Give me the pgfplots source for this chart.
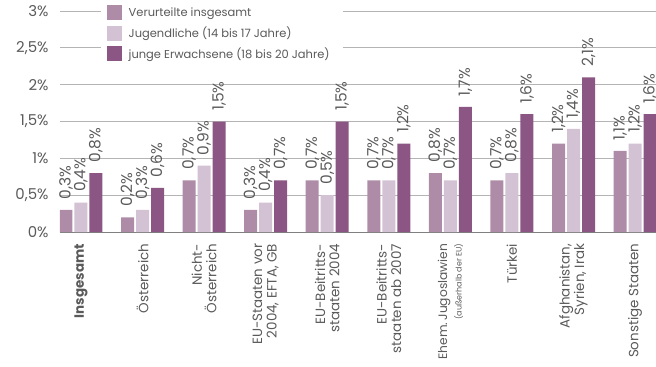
\documentclass[border=0pt]{standalone}
\usepackage{pgfplots}
\pgfplotsset{compat=1.18}
\usepackage{fontspec}
\setmainfont{Poppins}
\definecolor{cA}{HTML}{AE8CA8}
\definecolor{cB}{HTML}{D3C2D3}
\definecolor{cC}{HTML}{8B5683}
\definecolor{txt}{HTML}{5A5A5A}
\definecolor{grd}{HTML}{B4B4B4}
\begin{document}
\begin{tikzpicture}
\useasboundingbox (-60bp,-135bp) rectangle (596bp,232bp);
\begin{axis}[
  scale only axis,
  width=596bp, height=221bp,
  xmin=-0.34, xmax=9.34,
  ymin=0, ymax=3,
  ybar=2bp, bar width=13bp,
  axis lines*=left,
  y axis line style={draw=none},
  x axis line style={draw=gray, line width=0.9pt},
  tick style={draw=none},
  ymajorgrids, grid style={grd, line width=0.8pt},
  ytick={0,0.5,1,1.5,2,2.5,3},
  yticklabels={0\%,{0,5\%},1\%,{1,5\%},2\%,{2,5\%},3\%},
  yticklabel style={font=\fontsize{15}{15}\selectfont, text=txt, xshift=-8bp},
  xtick={0,...,9},
  xticklabels={
    {\textbf{Insgesamt}},
    {Österreich},
    {Nicht-\\Österreich},
    {EU-Staaten vor\\2004, EFTA, GB},
    {EU-Beitritts-\\staaten 2004},
    {EU-Beitritts-\\staaten ab 2007},
    {{\fontsize{12.3}{13}\selectfont Ehem.\,Jugoslawien}\\{\fontsize{8}{9}\selectfont (außerhalb der EU)}},
    {Türkei},
    {Afghanistan,\\Syrien, Irak},
    {Sonstige Staaten}},
  xticklabel style={rotate=90, anchor=east, align=right, font=\fontsize{13.5}{14.5}\selectfont, text=txt, xshift=-4bp},
  nodes near coords={\pgfmathprintnumber[fixed,zerofill,precision=1,use comma,assume math mode=true]{\pgfplotspointmeta}\%},
  every node near coord/.append style={rotate=90, anchor=west, font=\fontsize{15.5}{15.5}\selectfont, text=txt, inner ysep=2bp, inner xsep=10.5bp},
  legend style={at={(rel axis cs:0.068,1.035)}, anchor=north west, draw=none, fill=white,
    font=\fontsize{11.5}{12}\selectfont, text=txt, row sep=4.5bp, inner xsep=6bp, inner ysep=2bp,
    nodes={inner xsep=7bp}},
  legend cell align=left,
  legend image code/.code={\fill[#1] (0bp,-7.5bp) rectangle (15bp,7.5bp);},
]
\addplot[fill=cA, draw=none] coordinates {(0,0.3) (1,0.2) (2,0.7) (3,0.3) (4,0.7) (5,0.7) (6,0.8) (7,0.7) (8,1.2) (9,1.1)};
\addplot[fill=cB, draw=none] coordinates {(0,0.4) (1,0.3) (2,0.9) (3,0.4) (4,0.5) (5,0.7) (6,0.7) (7,0.8) (8,1.4) (9,1.2)};
\addplot[fill=cC, draw=none] coordinates {(0,0.8) (1,0.6) (2,1.5) (3,0.7) (4,1.5) (5,1.2) (6,1.7) (7,1.6) (8,2.1) (9,1.6)};
\legend{Verurteilte insgesamt, Jugendliche (14 bis 17 Jahre), junge Erwachsene (18 bis 20 Jahre)}
\end{axis}
\end{tikzpicture}
\end{document}
